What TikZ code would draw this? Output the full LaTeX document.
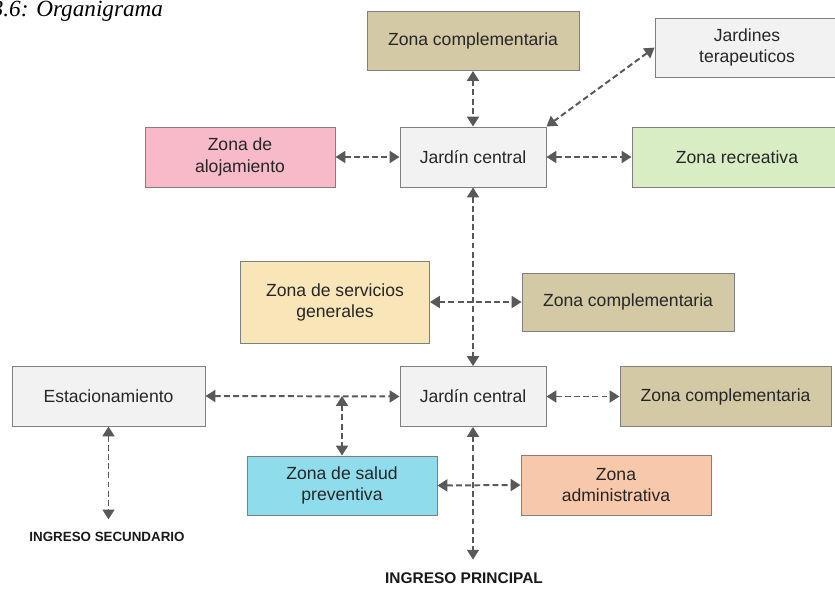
\documentclass[tikz,border=0pt]{standalone}
\usepackage{fontspec}
\setmainfont{Liberation Sans}
\newfontfamily\captionfont{Liberation Serif}
\usetikzlibrary{arrows.meta}
\definecolor{tanbox}{HTML}{D3C9A5}
\definecolor{greybox}{HTML}{F2F2F2}
\definecolor{greenbox}{HTML}{D9EDC5}
\definecolor{pinkbox}{HTML}{F8B9C9}
\definecolor{yellowbox}{HTML}{F8E6B8}
\definecolor{cyanbox}{HTML}{8FDCEC}
\definecolor{peachbox}{HTML}{F8C8AA}
\definecolor{edgegrey}{HTML}{7F7F7F}
\definecolor{arrowgrey}{HTML}{595959}
\tikzset{
	zone/.style={draw=edgegrey, line width=.7pt, text=black!85, align=center, inner sep=0pt,
		font=\fontsize{12.5}{15}\selectfont},
	link/.style={draw=arrowgrey, line width=1.4pt, dash pattern=on 4.2pt off 2.3pt,
		{Triangle[length=7pt,width=8.5pt]}-{Triangle[length=7pt,width=8.5pt]}},
	entry/.style={text=black!90, inner sep=0pt},
}
\begin{document}
\begin{tikzpicture}
			\useasboundingbox (0,0) rectangle (20.875,-14.725);
			\node[anchor=base east, font=\captionfont\itshape\fontsize{16.5}{19}\selectfont] (figTitle) at (4.2,-.42) {3.6: Organigrama};
			% upper garden
			\node[zone, fill=tanbox, minimum width=5.3cm, minimum height=1.475cm] (compTop) at (11.825,-1.025) {Zona complementaria};
			\node[zone, fill=greybox, minimum width=4.6cm, minimum height=1.475cm] (therap) at (18.675,-1.19) {Jardines\\terapeuticos};
			\node[zone, fill=greybox, minimum width=3.65cm, minimum height=1.5cm] (centralTop) at (11.825,-3.925) {Jardín central};
			\node[zone, fill=greenbox, minimum width=5.25cm, minimum height=1.5cm] (recre) at (18.425,-3.925) {Zona recreativa};
			\node[zone, fill=pinkbox, minimum width=4.75cm, minimum height=1.5cm] (lodging) at (6,-3.925) {Zona de\\alojamiento};
			% middle
			\node[zone, fill=yellowbox, minimum width=4.725cm, minimum height=2.05cm] (services) at (8.375,-7.55) {Zona de servicios\\generales};
			\node[zone, fill=tanbox, minimum width=5.3cm, minimum height=1.45cm] (compMid) at (15.7,-7.55) {Zona complementaria};
			% lower garden
			\node[zone, fill=greybox, minimum width=3.65cm, minimum height=1.5cm] (centralLow) at (11.825,-9.9125) {Jardín central};
			\node[zone, fill=tanbox, minimum width=5.275cm, minimum height=1.5cm] (compLow) at (18.1375,-9.9125) {Zona complementaria};
			\node[zone, fill=greybox, minimum width=4.825cm, minimum height=1.5cm] (parking) at (2.7125,-9.9) {Estacionamiento};
			\node[zone, fill=cyanbox, minimum width=4.75cm, minimum height=1.475cm] (health) at (8.55,-12.1375) {Zona de salud\\preventiva};
			\node[zone, fill=peachbox, minimum width=4.75cm, minimum height=1.5cm] (admin) at (15.4,-12.125) {Zona\\administrativa};
			\node[entry, font=\bfseries\fontsize{9.5}{11}\selectfont] (backEntry) at (2.675,-13.425) {INGRESO SECUNDARIO};
			\node[entry, font=\bfseries\fontsize{11}{13}\selectfont] (mainEntry) at (11.6,-14.45) {INGRESO PRINCIPAL};
			% connectors
			\draw[link] (compTop.south) -- (centralTop.north);
			\draw[link] (therap.west) -- (centralTop.north east);
			\draw[link] (lodging.east) -- (centralTop.west);
			\draw[link] (centralTop.east) -- (recre.west);
			\draw[link] (centralTop.south) -- (centralLow.north);
			\draw[link] (services.east) -- (compMid.west);
			\draw[link] (parking.east) -- (centralLow.west);
			\draw[link] (health.north |- parking.east) -- (health.north);
			\draw[link] (centralLow.east) -- (compLow.west);
			\draw[link] (health.east) -- (admin.west);
			\draw[link, shorten >=9pt] (parking.south) -- (parking.south |- backEntry.north);
			\draw[link, shorten >=9pt] (centralLow.south) -- (centralLow.south |- mainEntry.north);
		\end{tikzpicture}
\end{document}
